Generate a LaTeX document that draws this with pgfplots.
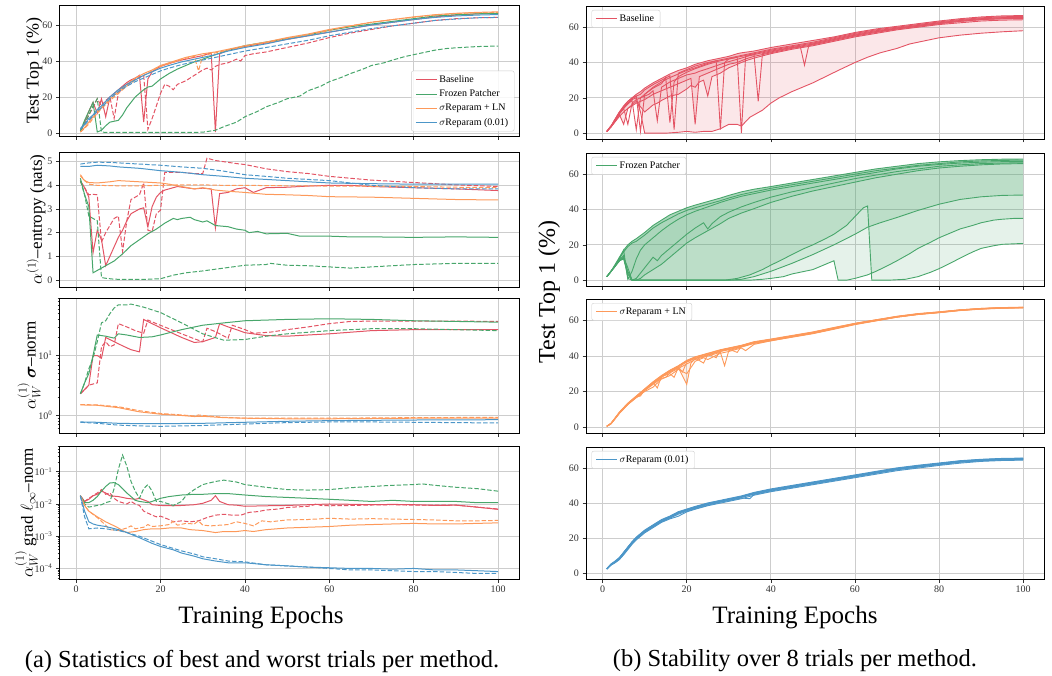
\documentclass[border=0pt]{standalone}
\usepackage{amsmath}
\usepackage{fontspec}
\setmainfont{Liberation Serif}
\usepackage{pgfplots}
\pgfplotsset{compat=1.18}
\definecolor{cB}{RGB}{227,84,100}
\definecolor{cF}{RGB}{72,166,107}
\definecolor{cO}{RGB}{253,153,90}
\definecolor{cU}{RGB}{76,150,200}
\definecolor{gridc}{RGB}{205,205,205}
\pgfplotsset{
 pan/.style={scale only axis, xmin=-3.95, xmax=104.95, xtick={0,20,40,60,80,100},
   grid=major, grid style={gridc, line width=0.8pt}, axis line style={black, line width=0.8pt},
   tick align=outside, tick pos=left, major tick length=3.5pt, minor tick length=2pt,
   tick style={black!80, line width=0.6pt},
   ticklabel style={font=\fontsize{10}{12}\selectfont, text=black!80},
   /pgf/number format/assume math mode=true, legend cell align=left,
   legend image code/.code={\draw[##1] (0pt,0pt) -- (21pt,0pt);},
   legend style={draw=black!20, fill=white, fill opacity=0.85, text opacity=1, rounded corners=2pt,
     font=\fontsize{10}{12}\selectfont, inner xsep=4pt, inner ysep=2.5pt, row sep=1pt}},
 L/.style={pan, width=459.5pt},
 R/.style={pan, width=458pt, ymin=-3.3, ymax=72, ytick={0,20,40,60},
   legend style={at={(0.012,0.97)}, anchor=north west}},
 nox/.style={xticklabels={}},
 yl/.style 2 args={ylabel style={font=\fontsize{#1}{20}\selectfont, at={(axis description cs:#2,0.5)}, anchor=center}},
 s/.style={line width=1pt},
 d/.style={line width=1pt, dash pattern=on 4.5pt off 2pt},
 tr/.style={line width=0.9pt, #1},
 fl/.style={fill=#1, fill opacity=0.14, draw=none},
}
\begin{document}
\begin{tikzpicture}
\useasboundingbox (0,0) rectangle (1052pt,-675pt);
%================ L1
\begin{axis}[L, nox, at={(59.5pt,-5pt)}, anchor=north west, height=131pt, ymin=-1.7, ymax=71.1,
  ytick={0,20,40,60}, ylabel={Test Top 1 (\%)}, yl={18}{-0.055},
  legend style={at={(0.99,0.035)}, anchor=south east, row sep=2pt}]
\addlegendimage{cB,s}\addlegendentry{Baseline}
\addlegendimage{cF,s}\addlegendentry{Frozen Patcher}
\addlegendimage{cO,s}\addlegendentry{$\sigma$Reparam + LN}
\addlegendimage{cU,s}\addlegendentry{$\sigma$Reparam (0.01)}
\addplot[cB,s] coordinates {(1,1)(2,6)(3,12)(4,17)(5,11)(6,19)(7,9)(8,20)(9,22)(10,24)(11,26)(12,28)(13,29.5)(14,30.5)(15,32)(16,6)(17,30)(18,34)(19,35.5)(20,37)(22,38.5)(24,40)(26,41)(28,42)(30,43)(32,44.5)(33,0.5)(34,44)(36,46)(38,47)(40,48)(45,50)(50,52)(55,54)(60,56)(65,58)(70,60)(75,61.5)(80,63)(85,64.5)(90,65.5)(95,66.2)(100,66.5)};
\addplot[cB,d] coordinates {(1,1)(2,5)(3,10)(4,14)(5,19)(6,15)(7,18)(8,20)(9,8)(10,22)(11,25)(12,27)(13,28)(14,30)(15,31)(16,32)(17,2)(18,8)(19,15)(20,22)(21,27)(22,26)(23,24)(24,27)(26,29)(28,32)(30,35)(31,36)(32,35)(33,37)(34,38)(36,39)(38,41)(39,40)(40,43)(42,44)(45,45)(50,47.5)(55,50)(60,53)(65,55.5)(70,57.5)(75,59.5)(80,61)(85,62.5)(90,63.5)(95,64)(100,64.2)};
\addplot[cF,s] coordinates {(1,1)(2,7)(3,12)(4,17)(5,0.5)(6,1.5)(7,4)(8,6)(9,6.5)(10,7)(11,10)(12,14)(13,17)(14,20)(15,22)(16,24)(17,25.5)(18,26)(19,28)(20,30)(22,33)(24,35.5)(26,37.5)(28,39.5)(30,41)(33,43.5)(36,46)(40,48.5)(45,50.5)(50,52.5)(55,54.5)(60,57)(65,59)(70,60.5)(75,62)(80,63.5)(85,65)(90,65.7)(95,66.2)(100,66.5)};
\addplot[cF,d] coordinates {(1,1)(2,5)(3,10)(4,15)(5,19)(6,0.5)(7,0.3)(10,0.3)(15,0.3)(20,0.3)(25,0.3)(30,0.4)(33,1.5)(35,3.5)(38,6)(40,9)(43,12)(45,14.5)(48,17)(50,19)(53,20.5)(55,23.5)(58,26)(60,28.5)(63,31)(65,33)(68,35.5)(70,37.5)(73,39)(75,40.5)(78,42.5)(80,43.5)(83,45)(85,46)(88,47)(90,47.3)(95,48)(100,48.3)};
\addplot[cO,s] coordinates {(1,0.5)(2,3)(3,6)(4,9)(5,12)(6,14)(8,19)(10,23)(12,27)(14,30.5)(16,33)(18,35)(20,37.5)(22,39)(24,40.5)(26,42)(28,43)(30,44)(33,45)(36,46.5)(40,48.5)(45,50.5)(50,53)(55,55)(60,57.5)(65,59.5)(70,61.5)(75,63)(80,64.5)(85,65.7)(90,66.5)(95,67)(100,67.3)};
\addplot[cO,d] coordinates {(1,0.5)(2,2.5)(3,5)(4,8)(5,11)(6,13.5)(8,18)(10,22)(12,26)(14,29.5)(16,32)(18,34.5)(20,37)(22,38.5)(24,40)(26,41.5)(28,42.5)(29,34.5)(30,43)(33,44.5)(36,46)(40,48)(45,50)(50,52.5)(55,54.5)(60,57)(65,59.5)(70,61.5)(75,63)(80,64.3)(85,65.5)(90,66.3)(95,66.8)(100,67)};
\addplot[cU,s] coordinates {(1,2.5)(2,5)(3,8)(4,10)(5,13)(6,15)(8,20)(10,24)(12,27)(14,29.5)(16,32)(18,34)(20,36)(22,37.5)(25,39.5)(28,41)(30,42)(33,43.5)(36,45.5)(40,47.5)(45,49.5)(50,52)(55,54)(60,56)(65,58)(70,60)(75,61.5)(80,63)(85,64.2)(90,65)(95,65.5)(100,65.8)};
\addplot[cU,d] coordinates {(1,2)(2,4.5)(3,7)(4,9.5)(5,12)(6,14)(8,19)(10,23)(12,26)(14,28.5)(16,30.5)(18,32.5)(20,34.5)(22,36)(25,38)(28,39.5)(30,40.5)(33,42)(36,43.5)(40,45.5)(45,47.5)(50,49.5)(55,51.5)(60,54)(65,56)(70,58)(75,59.5)(80,61)(85,62.5)(90,63.3)(95,64)(100,64.2)};
\end{axis}
%================ L2
\begin{axis}[L, nox, at={(59.5pt,-152pt)}, anchor=north west, height=135pt, ymin=-0.3, ymax=5.41,
  ytick={0,1,2,3,4,5}, ylabel={$\alpha^{(1)}$--entropy (nats)}, yl={17}{-0.051}]
\addplot[cB,s] coordinates {(1,4.2)(2,3.9)(3,3.5)(4,1.15)(5,2.1)(6,1.7)(7,0.6)(8,1.0)(9,1.4)(10,1.8)(11,2.1)(12,2.5)(13,2.8)(14,2.9)(15,3.0)(16,3.05)(17,2.25)(18,3.1)(19,3.5)(20,3.7)(21,3.8)(22,3.85)(24,3.95)(26,3.9)(28,3.85)(30,3.88)(32,3.85)(33,2.2)(34,3.65)(36,3.7)(38,3.85)(40,3.9)(42,3.7)(45,3.9)(50,3.92)(55,3.97)(60,4.0)(65,4.0)(70,3.95)(80,3.9)(90,3.85)(100,3.78)};
\addplot[cB,d] coordinates {(1,4.15)(2,3.9)(3,3.6)(4,3.62)(5,3.6)(6,1.6)(7,2.0)(8,2.3)(9,2.6)(10,2.7)(11,1.2)(12,2.5)(13,3.4)(14,3.5)(15,3.6)(16,4.1)(17,2.1)(18,2.05)(19,2.8)(20,2.95)(21,4.55)(22,4.55)(25,4.55)(28,4.5)(30,4.5)(31,5.15)(33,5.05)(35,5.0)(38,4.92)(40,4.88)(45,4.7)(50,4.58)(55,4.5)(60,4.38)(65,4.3)(70,4.22)(80,4.12)(90,4.02)(100,3.95)};
\addplot[cF,s] coordinates {(1,4.3)(2,3.6)(3,3.1)(4,0.3)(5,0.4)(7,0.6)(9,0.8)(11,1.1)(13,1.45)(15,1.7)(17,1.95)(19,2.15)(21,2.4)(23,2.6)(24,2.55)(25,2.6)(27,2.65)(28,2.55)(30,2.45)(31,2.5)(33,2.3)(36,2.25)(38,2.15)(40,2.1)(41,2.0)(43,2.05)(45,1.95)(50,1.97)(53,1.85)(55,1.85)(60,1.85)(65,1.82)(70,1.82)(80,1.8)(90,1.82)(100,1.8)};
\addplot[cF,d] coordinates {(1,4.2)(2,3.6)(3,2.7)(4,2.6)(5,2.5)(6,0.1)(7,0.07)(9,0.03)(12,0.02)(16,0.02)(20,0.05)(23,0.2)(26,0.3)(30,0.38)(35,0.5)(40,0.62)(45,0.65)(46,0.7)(50,0.62)(55,0.6)(60,0.55)(65,0.5)(70,0.55)(80,0.65)(90,0.7)(100,0.7)};
\addplot[cO,s] coordinates {(1,4.4)(2,4.2)(3,4.12)(5,4.1)(8,4.15)(10,4.2)(12,4.18)(15,4.15)(18,4.12)(20,4.1)(22,4.05)(25,3.95)(28,3.85)(30,3.9)(33,3.8)(36,3.75)(40,3.7)(45,3.62)(50,3.6)(55,3.57)(60,3.52)(70,3.5)(80,3.45)(90,3.4)(100,3.38)};
\addplot[cO,d] coordinates {(1,4.45)(2,4.2)(3,4.05)(5,4.0)(10,3.98)(15,3.98)(20,4.0)(25,4.02)(30,4.02)(35,4.0)(40,4.0)(50,3.98)(60,3.97)(70,3.96)(80,3.95)(90,3.92)(100,3.9)};
\addplot[cU,s] coordinates {(1,4.8)(3,4.8)(5,4.85)(8,4.82)(10,4.78)(15,4.72)(20,4.62)(25,4.55)(30,4.45)(35,4.38)(40,4.3)(45,4.25)(50,4.2)(55,4.15)(60,4.1)(70,4.07)(80,4.05)(90,4.05)(100,4.05)};
\addplot[cU,d] coordinates {(1,4.9)(3,4.95)(5,4.98)(8,4.97)(10,4.95)(15,4.9)(20,4.85)(25,4.78)(30,4.72)(35,4.6)(40,4.45)(45,4.38)(50,4.3)(55,4.25)(60,4.2)(65,4.1)(70,4.0)(75,3.95)(80,3.9)(90,3.85)(100,3.85)};
\end{axis}
%================ L3
\begin{axis}[L, nox, at={(59.5pt,-298pt)}, anchor=north west, height=135pt, ymode=log, ymin=0.51, ymax=91,
  ytick={1,10}, yticklabels={10\textsuperscript{0},10\textsuperscript{1}},
  minor ytick={0.6,0.7,0.8,0.9,2,3,4,5,6,7,8,9,20,30,40,50,60,70,80,90},
  ylabel={$\alpha_W^{(1)}$ $\boldsymbol{\sigma}$--norm}, yl={17}{-0.066}]
\addplot[cB,s] coordinates {(1,2.3)(3,3.2)(4,10)(5,10)(6,9)(7,20)(9,17)(11,14.5)(13,12.5)(15,11.5)(16,40)(18,34)(20,29)(22,25)(25,20)(28,16.5)(30,17)(33,20)(34,34)(36,30)(38,27)(40,24)(45,21.5)(50,21)(55,22)(60,23)(70,26)(80,27)(90,27)(100,27)};
\addplot[cB,d] coordinates {(1,2.3)(3,3.2)(5,3.5)(6,14)(7,17)(8,14)(9,15)(10,34)(12,30)(14,26)(16,23.5)(17,39)(19,34)(22,28)(25,23)(28,19)(30,17)(31,28.5)(33,25)(36,19.4)(37,32)(40,27)(42,23.5)(46,24.5)(50,27)(55,30)(60,34)(65,37)(70,37.5)(80,37.5)(90,37.5)(100,37)};
\addplot[cF,s] coordinates {(1,2.3)(2,3.5)(3,5)(4,10)(5,22)(7,21)(9,19.5)(10,23)(12,22)(15,20)(18,20.5)(20,22)(25,27)(30,32)(35,35)(40,38)(50,40)(60,41)(70,40)(80,38)(90,37)(100,36)};
\addplot[cF,d] coordinates {(1,2.3)(2,3.5)(3,6)(4,9)(5,17)(6,35)(7,38)(8,50)(9,62)(10,70)(12,70)(13,72)(16,64)(20,52)(25,35)(30,23)(35,18)(40,18.5)(45,21)(50,23)(60,26)(70,28)(80,28)(90,27)(100,26)};
\addplot[cO,s] coordinates {(1,1.5)(5,1.48)(10,1.35)(15,1.15)(20,1.05)(25,1.0)(28,0.96)(30,0.97)(35,0.92)(40,0.9)(50,0.88)(60,0.88)(70,0.89)(80,0.9)(100,0.9)};
\addplot[cO,d] coordinates {(1,1.52)(5,1.5)(10,1.4)(15,1.2)(20,1.08)(25,1.02)(28,0.98)(29,1.02)(30,1.0)(35,0.93)(40,0.9)(50,0.9)(60,0.9)(70,0.91)(80,0.92)(100,0.93)};
\addplot[cU,s] coordinates {(1,0.78)(5,0.77)(10,0.74)(15,0.73)(20,0.73)(30,0.74)(40,0.77)(50,0.8)(60,0.82)(70,0.83)(80,0.84)(100,0.85)};
\addplot[cU,d] coordinates {(1,0.77)(5,0.74)(10,0.69)(15,0.67)(20,0.66)(30,0.68)(40,0.72)(50,0.76)(60,0.78)(70,0.78)(80,0.77)(100,0.75)};
\end{axis}
%================ L4
\begin{axis}[L, at={(59.5pt,-446pt)}, anchor=north west, height=133pt, ymode=log, ymin=4.7e-5, ymax=0.63,
  ytick={1e-4,1e-3,1e-2,1e-1}, yticklabels={10\textsuperscript{−4},10\textsuperscript{−3},10\textsuperscript{−2},10\textsuperscript{−1}},
  minor ytick={5e-5,6e-5,7e-5,8e-5,9e-5,2e-4,3e-4,4e-4,5e-4,6e-4,7e-4,8e-4,9e-4,2e-3,3e-3,4e-3,5e-3,6e-3,7e-3,8e-3,9e-3,2e-2,3e-2,4e-2,5e-2,6e-2,7e-2,8e-2,9e-2,0.2,0.3,0.4,0.5,0.6},
  ylabel={$\alpha_W^{(1)}$ grad $\ell_\infty$--norm}, yl={17}{-0.072}]
\addplot[cB,s] coordinates {(1,0.018)(2,0.012)(3,0.014)(4,0.018)(5,0.02)(6,0.025)(7,0.022)(8,0.018)(10,0.017)(12,0.015)(14,0.014)(15,0.015)(17,0.012)(18,0.0095)(20,0.009)(23,0.0088)(25,0.009)(28,0.0095)(30,0.0105)(32,0.013)(33,0.018)(34,0.012)(36,0.0095)(38,0.0092)(40,0.0085)(45,0.0088)(50,0.009)(55,0.0095)(60,0.01)(65,0.0098)(70,0.0095)(75,0.0097)(80,0.0095)(85,0.009)(90,0.0092)(95,0.008)(100,0.0068)};
\addplot[cB,d] coordinates {(1,0.018)(2,0.012)(3,0.015)(5,0.022)(6,0.028)(7,0.02)(8,0.022)(9,0.015)(10,0.012)(12,0.01)(13,0.012)(14,0.01)(15,0.009)(16,0.006)(18,0.0045)(19,0.004)(20,0.0042)(22,0.0033)(23,0.0028)(25,0.003)(27,0.0028)(29,0.003)(31,0.0038)(33,0.0045)(35,0.0048)(37,0.0045)(39,0.0045)(41,0.0055)(43,0.0058)(45,0.0065)(48,0.007)(50,0.0078)(55,0.0085)(57,0.01)(58,0.009)(60,0.0088)(65,0.009)(70,0.0093)(75,0.0095)(80,0.0092)(85,0.0093)(90,0.0092)(95,0.008)(100,0.007)};
\addplot[cF,s] coordinates {(1,0.018)(2,0.011)(3,0.011)(4,0.013)(5,0.017)(6,0.025)(7,0.035)(8,0.045)(9,0.046)(10,0.04)(11,0.03)(12,0.022)(13,0.017)(14,0.013)(15,0.012)(17,0.011)(18,0.012)(20,0.015)(22,0.017)(25,0.019)(28,0.02)(30,0.02)(33,0.021)(36,0.021)(38,0.02)(40,0.019)(45,0.017)(50,0.016)(55,0.015)(60,0.014)(65,0.013)(70,0.012)(75,0.013)(80,0.012)(85,0.012)(90,0.012)(95,0.011)(100,0.011)};
\addplot[cF,d] coordinates {(1,0.018)(2,0.01)(3,0.008)(4,0.0085)(5,0.009)(6,0.0095)(7,0.011)(8,0.012)(9,0.03)(10,0.12)(11,0.33)(12,0.15)(13,0.05)(14,0.025)(15,0.015)(16,0.03)(17,0.04)(18,0.025)(19,0.012)(20,0.012)(22,0.01)(23,0.009)(25,0.012)(26,0.018)(28,0.028)(30,0.04)(33,0.05)(35,0.055)(38,0.048)(40,0.04)(45,0.033)(50,0.028)(55,0.027)(60,0.028)(65,0.032)(70,0.035)(75,0.038)(80,0.04)(82,0.042)(85,0.038)(90,0.033)(95,0.03)(100,0.025)};
\addplot[cO,s] coordinates {(1,0.018)(2,0.009)(3,0.006)(5,0.004)(7,0.0028)(9,0.0021)(10,0.0018)(11,0.0015)(12,0.0013)(14,0.0014)(16,0.0016)(18,0.0017)(20,0.0017)(22,0.0018)(25,0.0018)(27,0.0016)(30,0.0015)(33,0.0013)(35,0.0014)(38,0.0014)(40,0.0015)(42,0.0014)(45,0.0016)(50,0.0018)(55,0.0019)(60,0.002)(65,0.0022)(70,0.0023)(75,0.0024)(80,0.0025)(85,0.0024)(90,0.0024)(95,0.0025)(100,0.0026)};
\addplot[cO,d] coordinates {(1,0.018)(2,0.009)(3,0.006)(5,0.0038)(7,0.0022)(8,0.0016)(10,0.0015)(12,0.0018)(13,0.0021)(14,0.0017)(16,0.0019)(17,0.0023)(18,0.002)(20,0.0021)(22,0.0023)(23,0.0029)(24,0.0022)(26,0.0025)(28,0.0024)(29,0.003)(30,0.0022)(32,0.0021)(34,0.0022)(36,0.0023)(38,0.0028)(40,0.0025)(42,0.0021)(44,0.003)(46,0.0028)(50,0.0032)(55,0.0033)(60,0.0036)(65,0.0034)(70,0.0035)(75,0.0034)(80,0.0033)(85,0.0032)(90,0.003)(95,0.003)(100,0.0031)};
\addplot[cU,s] coordinates {(1,0.018)(2,0.006)(3,0.0028)(4,0.0024)(5,0.0022)(7,0.002)(10,0.0016)(12,0.0013)(15,0.0009)(18,0.0006)(20,0.00048)(23,0.00038)(25,0.0003)(28,0.00024)(30,0.0002)(33,0.00017)(36,0.00015)(40,0.00015)(45,0.00013)(50,0.00012)(55,0.00011)(60,0.000105)(65,0.0001)(70,0.0001)(75,0.000095)(80,0.0001)(85,0.00009)(90,0.00009)(95,0.000085)(100,0.00008)};
\addplot[cU,d] coordinates {(1,0.018)(2,0.004)(3,0.0017)(5,0.0018)(7,0.0017)(10,0.0015)(12,0.0013)(15,0.001)(18,0.0007)(20,0.00055)(23,0.00042)(25,0.00035)(28,0.00028)(30,0.00023)(33,0.0002)(36,0.00017)(40,0.00016)(45,0.00013)(50,0.00012)(55,0.00011)(60,0.0001)(65,0.00009)(70,0.00009)(75,0.000085)(80,0.00008)(85,0.00008)(90,0.000075)(95,0.00007)(100,0.00007)};
\end{axis}
%================ R1 Baseline
\begin{axis}[R, nox, at={(586pt,-6pt)}, anchor=north west, height=133pt]
\addlegendimage{cB,s}\addlegendentry{Baseline}
\addplot[fl=cB] coordinates {(1,1)(2,4)(3,8)(4,12)(5,15)(6,18)(7,20)(8,22)(9,23.5)(10,25.5)(12,28.5)(14,31)(16,33.5)(18,35.5)(20,37)(22,39)(25,41)(28,42.5)(30,43.5)(32,45)(33,45.5)(36,46.5)(40,48.5)(45,50.5)(50,52.5)(55,54.5)(60,57)(65,59)(70,60.5)(75,62)(80,63.5)(85,64.8)(90,65.8)(95,66.4)(100,66.6)
 (100,58)(95,57.4)(90,56.6)(85,55.5)(80,54)(76,52)(73,50.5)(70,48)(66,45.5)(63,43)(60,40)(56,35.5)(53,32)(50,28.5)(48,26.5)(45,23.5)(42,20)(40,17)(38,13)(35,9)(33,4)(32,5)(30,5)(28,2.5)(26,1)(24,1)(22,0.5)(20,1)(18,0.5)(15,0)(12,0)(10,0)(9,12)(8,20)(7,19)(6,17)(5,14)(4,11)(3,7.5)(2,4)(1,1)};
\addplot[fl=cB] coordinates {(1,1)(2,4)(3,8)(4,12)(5,15)(6,18)(7,20)(8,22)(9,23.5)(10,25.5)(12,28.5)(14,31)(16,33.5)(18,35.5)(20,37)(22,39)(25,41)(28,42.5)(30,43.5)(32,45)(33,45.5)(36,46.5)(40,48.5)(45,50.5)(50,52.5)(55,54.5)(60,57)(65,59)(70,60.5)(75,62)(80,63.5)(85,64.8)(90,65.8)(95,66.4)(100,66.6)
 (100,64.2)(95,64)(90,63.5)(85,62.5)(80,61.5)(75,60)(70,58.5)(65,56.5)(60,54.5)(55,52)(50,49.5)(45,47.5)(40,45)(36,42.5)(34,41)(32,39)(30,37)(28,34)(26,32)(25,21)(24,30)(23,29)(22,26)(21,27)(20,25)(18,22)(16,21)(14,18.5)(13,17)(12,16)(11,14)(10,12)(9,15)(8,18)(7,16)(6,14)(5,12)(4,9.5)(3,6.5)(2,3.5)(1,1)};
\addplot[fl=cB] coordinates {(1,1)(2,4)(3,8)(4,12)(5,15)(6,18)(7,20)(8,22)(9,23.5)(10,25.5)(12,28.5)(14,31)(16,33.5)(18,35.5)(20,37)(22,39)(25,41)(28,42.5)(30,43.5)(32,45)(33,45.5)(36,46.5)(40,48.5)(45,50.5)(50,52.5)(55,54.5)(60,57)(65,59)(70,60.5)(75,62)(80,63.5)(85,64.8)(90,65.8)(95,66.4)(100,66.6)
 (100,65)(95,64.8)(90,64.3)(85,63.3)(80,62)(75,60.5)(70,59)(65,57)(60,55)(55,52.5)(50,50)(45,48)(40,45.5)(36,43.5)(34,42)(32,40)(30,39)(28,37)(27,36)(25,34)(23,32)(22,5)(21,31)(20,30)(18,28)(16,26)(14,24)(12,22)(10,19)(9,18)(8,17)(7,15.5)(6,14)(5,5)(4,10.5)(3,7)(2,3.5)(1,1)};
\addplot[tr=cB] coordinates {(1,1)(2,4)(3,8)(4,12)(5,15)(6,18)(7,20)(8,22)(9,23.5)(10,25.5)(12,28.5)(14,31)(16,33.5)(18,35.5)(20,37)(22,39)(25,41)(28,42.5)(30,43.5)(32,45)(33,45.5)(36,46.5)(40,48.5)(45,50.5)(50,52.5)(55,54.5)(60,57)(65,59)(70,60.5)(75,62)(80,63.5)(85,64.8)(90,65.8)(95,66.4)(100,66.6)};
\addplot[tr=cB] coordinates {(1,1)(2,4)(3,8)(4,12)(5,15.5)(6,18)(7,20)(8,21)(9,22)(10,24.5)(12,27.5)(14,30)(16,32.5)(17,2)(18,34)(20,36)(22,38)(25,40)(28,41.5)(30,42.5)(33,44)(36,45.5)(40,47.5)(45,49.5)(50,51.5)(55,54)(60,56.5)(65,58.5)(70,60)(75,61.5)(80,63)(85,64.3)(90,65.3)(95,65.9)(100,66.1)};
\addplot[tr=cB] coordinates {(1,1)(2,4)(3,8)(4,12)(5,14.5)(6,17)(7,19.5)(8,21)(9,1)(10,22)(12,26)(14,29)(16,31.5)(18,33.5)(20,35.5)(22,37)(25,39.5)(27,41)(28,2)(29,40)(30,42)(33,43.5)(36,45)(40,47)(45,49)(50,51)(55,53.5)(60,56)(65,58)(70,59.5)(75,61)(80,62.5)(85,63.8)(90,64.8)(95,65.4)(100,65.6)};
\addplot[tr=cB] coordinates {(1,1)(2,4)(3,7.5)(4,11.5)(5,14)(6,16.5)(7,18.5)(8,2)(9,20)(10,22)(12,25.5)(14,28)(15,31.5)(16,6)(17,29)(18,32)(20,34.5)(22,36.5)(25,39)(28,41)(30,42)(32,43)(33,0)(34,43.5)(36,44.5)(40,46.5)(45,48.5)(50,50.5)(55,53)(60,55.5)(65,57.5)(70,59)(75,60.5)(80,62)(85,63.3)(90,64.3)(95,64.8)(100,65)};
\addplot[tr=cB] coordinates {(1,1)(2,3.5)(3,7)(4,11)(5,14)(6,5)(7,17)(8,19)(9,20)(10,21)(11,22)(12,24)(13,7)(14,26)(16,29)(18,31)(20,33)(22,34)(23,35)(25,36.5)(28,39)(30,40.5)(33,42.5)(35,44)(36,44.5)(37,18)(38,45)(40,46)(45,48.5)(47,49)(48,38.5)(49,49.5)(50,50.5)(55,53)(60,55.5)(65,57.5)(70,59.5)(75,61)(80,62.5)(85,63.8)(90,64.8)(95,65.3)(100,65.5)};
\addplot[tr=cB] coordinates {(1,1)(2,3.5)(3,7)(4,10.5)(5,5)(6,14)(7,15.5)(8,17)(9,18)(10,19)(12,22)(14,24)(16,26)(18,28)(20,30)(21,31)(22,5)(23,32)(25,34)(27,36)(28,37)(30,39)(32,40)(34,42)(36,43.5)(40,45.5)(45,48)(50,50)(55,52.5)(60,55)(65,57)(70,59)(75,60.5)(80,62)(85,63.3)(90,64.3)(95,64.8)(100,65)};
\addplot[tr=cB] coordinates {(1,1)(2,3.5)(3,6.5)(4,9.5)(5,12)(6,14)(7,16)(8,18)(9,15)(10,12)(11,14)(12,16)(13,17)(14,18.5)(16,21)(18,22)(20,25)(21,27)(22,26)(23,29)(24,30)(25,21)(26,32)(28,34)(30,37)(32,39)(34,41)(36,42.5)(40,45)(45,47.5)(50,49.5)(55,52)(60,54.5)(65,56.5)(70,58.5)(75,60)(80,61.5)(85,62.5)(90,63.5)(95,64)(100,64.2)};
\addplot[tr=cB] coordinates {(1,1)(2,4)(3,7.5)(4,11)(5,14)(6,17)(7,19)(8,20)(9,12)(10,0)(12,0)(15,0)(18,0.5)(20,1)(22,0.5)(24,1)(26,1)(28,2.5)(30,5)(32,5)(33,4)(35,9)(38,13)(40,17)(42,20)(45,23.5)(48,26.5)(50,28.5)(53,32)(56,35.5)(60,40)(63,43)(66,45.5)(70,48)(73,50.5)(76,52)(80,54)(85,55.5)(90,56.6)(95,57.4)(100,58)};
\end{axis}
%================ R2 Frozen
\begin{axis}[R, nox, at={(586pt,-153pt)}, anchor=north west, height=133pt]
\addlegendimage{cF,s}\addlegendentry{Frozen Patcher}
\addplot[fl=cF] coordinates {(1,2)(2,5)(3,9)(4,13)(5,17)(6,20)(7,22)(8,23.5)(10,27)(12,31)(14,34)(16,37)(18,39)(20,41)(22,42.5)(25,44.5)(28,46.5)(30,48)(33,50)(36,51.5)(40,53)(45,55)(50,57)(55,59)(60,61)(65,63)(70,64.5)(75,66)(80,67)(85,67.7)(90,68.2)(95,68.5)(100,68.6)
 (100,20.8)(95,20.3)(93,19.5)(90,18)(88,16)(85,12.5)(83,10)(80,6.5)(78,4.5)(75,2)(72,0.5)(68,0)(64,0)(63,42)(62,41)(61,38.5)(60,36)(58,31)(55,26)(53,23.5)(50,20)(48,18)(45,14.5)(43,12)(40,8.5)(38,6)(35,3)(32,1)(29,0)(25,0)(20,0)(15,0)(10,0)(7,0)(6,5)(5,13)(4,11)(3,8)(2,5)(1,2)};
\addplot[fl=cF] coordinates {(1,2)(2,5)(3,9)(4,13)(5,17)(6,20)(7,22)(8,23.5)(10,27)(12,31)(14,34)(16,37)(18,39)(20,41)(22,42.5)(25,44.5)(28,46.5)(30,48)(33,50)(36,51.5)(40,53)(45,55)(50,57)(55,59)(60,61)(65,63)(70,64.5)(75,66)(80,67)(85,67.7)(90,68.2)(95,68.5)(100,68.6)
 (100,35)(98,35)(95,34.5)(93,34)(90,32.5)(88,31)(85,29)(83,27)(80,24)(78,21.5)(75,18)(73,15)(70,11)(68,8.5)(65,5)(63,3)(60,1)(58,0)(56,0)(55,11)(54,10)(52,8)(50,6)(48,5)(45,3.5)(43,2)(40,1)(38,0.5)(35,0)(30,0)(20,0)(10,0)(7,0)(6,3)(5,12)(4,11)(3,8)(2,5)(1,2)};
\addplot[fl=cF] coordinates {(1,2)(2,5)(3,9)(4,13)(5,17)(6,20)(7,22)(8,23.5)(10,27)(12,31)(14,34)(16,37)(18,39)(20,41)(22,42.5)(25,44.5)(28,46.5)(30,48)(33,50)(36,51.5)(40,53)(45,55)(50,57)(55,59)(60,61)(65,63)(70,64.5)(75,66)(80,67)(85,67.7)(90,68.2)(95,68.5)(100,68.6)
 (100,48.2)(95,48)(90,47.2)(85,45.7)(80,43)(75,39.5)(70,35.5)(66,32.5)(63,30)(60,26)(55,20)(50,14.5)(45,9.5)(40,5)(36,2)(33,0.5)(30,0)(20,0)(10,0)(7,0)(6,4)(5,12.5)(4,11)(3,8)(2,5)(1,2)};
\addplot[fl=cF] coordinates {(1,2)(2,5)(3,9)(4,13)(5,17)(6,20)(7,22)(8,23.5)(10,27)(12,31)(14,34)(16,37)(18,39)(20,41)(22,42.5)(25,44.5)(28,46.5)(30,48)(33,50)(36,51.5)(40,53)(45,55)(50,57)(55,59)(60,61)(65,63)(70,64.5)(75,66)(80,67)(85,67.7)(90,68.2)(95,68.5)(100,68.6)
 (100,66)(95,65.8)(90,65.3)(85,64.5)(80,63.5)(75,62)(70,60)(65,58)(60,55.5)(55,53)(50,50.5)(45,47.5)(40,44)(36,40.5)(33,38)(30,35)(28,32)(25,28)(22,24)(20,21)(18,17)(16,13)(14,9)(12,6)(10,3)(9,1)(8,0)(7,0)(6,7)(5,13)(4,11)(3,8)(2,5)(1,2)};
\addplot[tr=cF] coordinates {(1,2)(2,5)(3,9)(4,13)(5,17)(6,20)(7,22)(8,23.5)(10,27)(12,31)(14,34)(16,37)(18,39)(20,41)(22,42.5)(25,44.5)(28,46.5)(30,48)(33,50)(36,51.5)(40,53)(45,55)(50,57)(55,59)(60,61)(65,63)(70,64.5)(75,66)(80,67)(85,67.7)(90,68.2)(95,68.5)(100,68.6)};
\addplot[tr=cF] coordinates {(1,2)(2,5)(3,8.5)(4,12.5)(5,16)(6,19)(7,21)(8,22)(10,25.5)(12,29.5)(14,32.5)(16,35)(18,37.5)(20,39.5)(22,41)(25,43)(28,45)(30,46.5)(33,48.5)(36,50)(40,52)(45,54)(50,56)(55,58)(60,60)(65,62)(70,63.5)(75,65)(80,66)(85,67)(90,67.5)(95,67.8)(100,68)};
\addplot[tr=cF] coordinates {(1,2)(2,5)(3,8.5)(4,12)(5,17)(6,0.5)(7,5)(8,12)(9,17)(10,20)(12,24)(14,28)(16,31.5)(18,34.5)(20,37)(22,39)(25,41.5)(28,44)(30,45.5)(33,47.5)(36,49)(40,51)(45,53)(50,55)(55,57)(60,59)(65,61)(70,63)(75,64.5)(80,65.5)(85,66.3)(90,66.8)(95,67.1)(100,67.2)};
\addplot[tr=cF] coordinates {(1,2)(2,5)(3,8)(4,11.5)(5,14)(6,1)(7,0)(8,1)(9,4)(10,7)(11,10)(12,13)(13,11)(14,14)(15,16)(16,18)(18,22)(20,26)(22,29.5)(24,32.5)(25,29)(26,32)(28,36)(30,38.5)(33,41.5)(36,44)(40,47)(45,50)(50,52.5)(55,55)(60,57.5)(65,59.5)(70,61.5)(75,63)(80,64.5)(85,65.3)(90,66)(95,66.3)(100,66.5)};
\addplot[tr=cF] coordinates {(1,2)(2,5)(3,8)(4,11)(5,13)(6,7)(7,0)(8,0)(9,1)(10,3)(12,6)(14,9)(16,13)(18,17)(20,21)(22,24)(25,28)(28,32)(30,35)(33,38)(36,40.5)(40,44)(45,47.5)(50,50.5)(55,53)(60,55.5)(65,58)(70,60)(75,62)(80,63.5)(85,64.5)(90,65.3)(95,65.8)(100,66)};
\addplot[tr=cF] coordinates {(1,2)(2,5)(3,8)(4,11)(5,13)(6,5)(7,0)(10,0)(15,0)(20,0)(25,0)(29,0)(32,1)(35,3)(38,6)(40,8.5)(43,12)(45,14.5)(48,18)(50,20)(53,23.5)(55,26)(58,31)(60,36)(61,38.5)(62,41)(63,42)(64,0)(68,0)(72,0.5)(75,2)(78,4.5)(80,6.5)(83,10)(85,12.5)(88,16)(90,18)(93,19.5)(95,20.3)(100,20.8)};
\addplot[tr=cF] coordinates {(1,2)(2,5)(3,8)(4,11)(5,12.5)(6,4)(7,0)(10,0)(20,0)(30,0)(33,0.5)(36,2)(40,5)(45,9.5)(50,14.5)(55,20)(60,26)(63,30)(66,32.5)(70,35.5)(75,39.5)(80,43)(85,45.7)(90,47.2)(95,48)(100,48.2)};
\addplot[tr=cF] coordinates {(1,2)(2,5)(3,8)(4,11)(5,12)(6,3)(7,0)(10,0)(20,0)(30,0)(35,0)(38,0.5)(40,1)(43,2)(45,3.5)(48,5)(50,6)(52,8)(54,10)(55,11)(56,0)(58,0)(60,1)(63,3)(65,5)(68,8.5)(70,11)(73,15)(75,18)(78,21.5)(80,24)(83,27)(85,29)(88,31)(90,32.5)(93,34)(95,34.5)(98,35)(100,35)};
\end{axis}
%================ R3 sigmaReparam + LN
\begin{axis}[R, nox, at={(586pt,-299pt)}, anchor=north west, height=134pt]
\addlegendimage{cO,s}\addlegendentry{$\sigma$Reparam + LN}
\addplot[fl=cO] coordinates {(1,0.5)(2,2.2)(3,5.3)(4,8.5)(5,11)(6,13.5)(8,17.5)(10,21.5)(12,25.5)(14,29)(16,32)(18,34.5)(20,37.5)(22,39.5)(25,41.5)(28,43.5)(30,44.5)(33,46)(36,48)(40,49.5)(45,51.5)(50,53.5)(55,56)(60,58.3)(65,60.3)(70,62.2)(75,63.7)(80,64.8)(85,65.9)(90,66.7)(95,67.1)(100,67.3)
 (100,67.2)(95,67)(90,66.5)(85,65.7)(80,64.5)(75,63.5)(70,62)(65,60)(60,58)(55,55.5)(50,53)(45,51)(40,49)(36,47.5)(33,45.5)(30,43.5)(28,42.5)(25,40.5)(22,38.5)(21,36)(20,24)(18,33.5)(16,31)(14,28)(12,24.5)(11,23)(10,21)(8,17)(6,13)(5,10.5)(4,8)(3,5)(2,2)(1,0.5)};
\addplot[tr=cO] coordinates {(1,0.5)(2,2.2)(3,5.3)(4,8.5)(5,11)(6,13.5)(8,17.5)(10,21.5)(12,25.5)(14,29)(16,32)(18,34.5)(20,37.5)(22,39.5)(25,41.5)(28,43.5)(30,44.5)(33,46)(36,48)(40,49.5)(45,51.5)(50,53.5)(55,56)(60,58.3)(65,60.3)(70,62.2)(75,63.7)(80,64.8)(85,65.9)(90,66.7)(95,67.1)(100,67.3)};
\addplot[tr=cO] coordinates {(1,0.5)(2,2)(3,5)(4,8)(5,10.5)(6,13)(8,17)(10,21)(11,23)(12,24.5)(14,28)(16,31)(18,33.5)(20,24)(21,36)(22,38.5)(25,40.5)(28,42.5)(30,43.5)(33,45.5)(36,47.5)(40,49)(45,51)(50,53)(55,55.5)(60,58)(65,60)(70,62)(75,63.5)(80,64.5)(85,65.7)(90,66.5)(95,67)(100,67.2)};
\addplot[tr=cO] coordinates {(1,0.5)(2,1.8)(3,4.7)(4,7.7)(5,10.2)(6,12.7)(8,16.5)(9,18)(10,20.5)(12,24)(14,27.5)(15,28)(16,30.5)(18,33)(20,35.5)(22,38)(25,40)(28,42)(29,34.5)(30,43)(33,45)(36,47)(40,48.5)(45,50.7)(50,52.7)(55,55.2)(60,57.8)(65,59.8)(70,61.8)(75,63.3)(80,64.4)(85,65.6)(90,66.4)(95,66.9)(100,67.1)};
\addplot[tr=cO] coordinates {(1,0.5)(2,2)(3,5)(4,8)(5,10.5)(6,13)(8,17)(10,20)(12,22.5)(14,27)(16,29)(18,32.5)(20,30)(22,37)(24,39)(25,38)(28,41.5)(30,42.5)(33,44.5)(34,43)(36,46.5)(40,48.5)(45,50.5)(50,52.5)(55,55)(60,57.6)(65,59.7)(70,61.8)(75,63.3)(80,64.3)(85,65.5)(90,66.3)(95,66.8)(100,67)};
\addplot[tr=cO] coordinates {(1,0.5)(2,2.1)(3,5.1)(4,8.2)(5,10.8)(6,13.2)(8,17.2)(10,21.2)(12,25.2)(13,22)(14,28.6)(16,31.6)(18,34.2)(20,37.2)(22,39.2)(25,41.2)(27,39)(28,43.2)(30,44.2)(33,45.7)(36,47.7)(40,49.2)(45,51.2)(50,53.2)(55,55.7)(60,58.2)(65,60.2)(70,62.1)(75,63.6)(80,64.6)(85,65.8)(90,66.6)(95,67.1)(100,67.3)};
\addplot[tr=cO] coordinates {(1,0.5)(2,1.9)(3,4.9)(4,7.9)(5,10.3)(6,12.8)(8,16.8)(10,20.8)(12,24.5)(14,28.2)(16,31.2)(18,33.7)(19,31)(20,36.5)(22,38.7)(25,40.7)(28,42.7)(30,43.7)(33,45.2)(36,47.2)(40,48.8)(45,50.8)(50,52.8)(55,55.3)(60,57.9)(65,59.9)(70,61.9)(75,63.4)(80,64.5)(85,65.7)(90,66.5)(95,67)(100,67.2)};
\addplot[tr=cO] coordinates {(1,0.5)(2,2)(3,5)(4,8)(5,10.5)(6,13)(8,17)(9,17.5)(10,21)(12,25)(14,28.5)(16,30)(17,28)(18,33.5)(20,36.8)(22,38.8)(24,36)(25,40.8)(28,42.8)(30,43.8)(32,42)(33,45.4)(36,47.4)(40,49)(45,51)(50,53)(55,55.5)(60,58)(65,60)(70,62)(75,63.5)(80,64.5)(85,65.7)(90,66.5)(95,67)(100,67.2)};
\addplot[tr=cO] coordinates {(1,0.5)(2,2.1)(3,5.2)(4,8.3)(5,10.7)(6,13.3)(8,17.3)(10,21.3)(12,25.3)(14,28.8)(16,31.8)(18,34.3)(20,37.3)(22,39.3)(25,41.3)(28,43.3)(30,44.3)(33,45.8)(36,47.8)(40,49.3)(45,51.3)(50,53.3)(55,55.8)(60,58.3)(65,60.3)(70,62.3)(75,63.8)(80,64.7)(85,65.9)(90,66.7)(95,67.2)(100,67.4)};
\end{axis}
%================ R4 sigmaReparam (0.01)
\begin{axis}[R, at={(586pt,-447pt)}, anchor=north west, height=132pt]
\addlegendimage{cU,s}\addlegendentry{$\sigma$Reparam (0.01)}
\addplot[fl=cU] coordinates {(1,2.5)(2,5.3)(3,7)(4,9)(5,12)(6,15)(7,18)(8,20.6)(10,24.6)(12,27.6)(14,30.6)(16,32.6)(18,35.1)(20,36.6)(22,38.1)(25,40.1)(28,41.6)(30,42.6)(33,44.1)(36,46.1)(40,48.1)(45,50.1)(50,52.1)(55,54.1)(60,56.1)(65,58.1)(70,60.1)(75,61.6)(80,62.9)(85,64.2)(90,65)(95,65.5)(100,65.7)
 (100,64.5)(95,64.3)(90,63.8)(85,62.8)(80,61.5)(75,60)(70,58.5)(65,56.5)(60,54.5)(55,52.5)(50,50.5)(45,48.5)(40,46.5)(36,44.5)(33,42.5)(30,41)(28,40)(25,38.5)(22,36.5)(20,35)(18,32.5)(16,31)(14,29)(12,26)(10,23)(8,19)(7,16.5)(6,13.5)(5,10.5)(4,7.8)(3,6)(2,4.6)(1,2.4)};
\addplot[tr=cU] coordinates {(1,2.5)(2,5.3)(3,7)(4,9)(5,12)(6,15)(7,18)(8,20.6)(10,24.6)(12,27.6)(14,30.6)(16,32.6)(18,35.1)(20,36.6)(22,38.1)(25,40.1)(28,41.6)(30,42.6)(33,44.1)(36,46.1)(40,48.1)(45,50.1)(50,52.1)(55,54.1)(60,56.1)(65,58.1)(70,60.1)(75,61.6)(80,62.9)(85,64.2)(90,65)(95,65.5)(100,65.7)};
\addplot[tr=cU] coordinates {(1,2.5)(2,5)(3,6.5)(4,8.5)(5,11.5)(6,14.5)(7,17.5)(8,20)(10,24)(12,27)(14,29.5)(16,32.2)(18,34.5)(20,36)(22,37.2)(25,39.7)(28,41)(30,42.2)(33,43.5)(36,45.2)(40,47.5)(45,49.7)(50,51.5)(55,53.3)(60,55.5)(65,57.6)(70,59.5)(75,61)(80,62.4)(85,63.6)(90,64.5)(95,65)(100,65.1)};
\addplot[tr=cU] coordinates {(1,2.3)(2,4.7)(3,6.2)(4,8)(5,10.8)(6,13.8)(7,16.8)(8,19.4)(10,23.4)(12,26.4)(14,29.4)(16,31.4)(18,33.7)(20,35.3)(22,36.8)(25,38.8)(28,40.5)(30,41.4)(33,42.9)(35,42.5)(36,44.9)(40,46.9)(45,48.9)(50,50.9)(55,52.9)(60,54.9)(65,57)(70,59)(75,60.5)(80,61.9)(85,63.3)(90,64.1)(95,64.6)(100,64.8)};
\addplot[tr=cU] coordinates {(1,2.6)(2,5.2)(3,6.8)(4,8.8)(5,11.8)(6,14.8)(7,17.8)(8,20.3)(10,24.3)(12,27.3)(14,30.3)(16,32.3)(18,34.8)(20,36.3)(22,37.8)(25,39.8)(28,41.3)(30,42.3)(33,43.8)(36,45.8)(40,47.8)(45,49.8)(50,51.8)(55,53.8)(60,55.8)(65,57.8)(70,59.8)(75,61.3)(80,62.6)(85,64)(90,64.8)(95,65.3)(100,65.5)};
\addplot[tr=cU] coordinates {(1,2.4)(2,4.6)(3,6)(4,7.8)(5,10.5)(6,13.5)(7,16.5)(8,19)(10,23)(12,26)(14,29)(16,31)(18,32.5)(20,35)(22,36.5)(25,38.5)(28,40)(30,41)(33,42.5)(36,44.5)(40,46.5)(45,48.5)(50,50.5)(55,52.5)(60,54.5)(65,56.5)(70,58.5)(75,60)(80,61.5)(85,62.8)(90,63.8)(95,64.3)(100,64.5)};
\addplot[tr=cU] coordinates {(1,2.5)(2,5.1)(3,6.6)(4,8.7)(5,11.7)(6,14.7)(7,17.7)(8,20.2)(10,24.2)(12,27.4)(14,30.2)(16,32.4)(18,34.4)(20,36.3)(22,37.9)(25,39.6)(28,41.2)(30,42.3)(33,43.7)(36,45.7)(40,47.7)(45,49.4)(50,51.7)(55,53.8)(60,55.6)(65,57.7)(70,59.6)(75,61.2)(80,62.5)(85,63.8)(90,64.7)(95,65.2)(100,65.4)};
\addplot[tr=cU] coordinates {(1,2.4)(2,4.9)(3,6.3)(4,8.2)(5,11.2)(6,14.2)(7,17.2)(8,19.7)(10,23.7)(12,26.7)(14,29.7)(16,31.7)(18,34.2)(20,35.7)(22,37.2)(25,39.2)(28,40.7)(30,41.7)(33,43.2)(36,45.2)(40,47.2)(45,49.2)(50,51.2)(55,53.2)(60,55.2)(65,57.2)(70,59.2)(75,60.7)(80,62)(85,63.4)(90,64.2)(95,64.7)(100,64.9)};
\addplot[tr=cU] coordinates {(1,2.5)(2,5)(3,6.6)(4,8.6)(5,11.6)(6,14.6)(7,17.6)(8,20.1)(10,24.1)(12,27.1)(14,30.1)(16,32.1)(18,34.6)(20,36.1)(22,37.6)(25,39.6)(28,41.1)(30,42.1)(33,43.6)(36,45.6)(40,47.6)(45,49.6)(50,51.6)(55,53.6)(60,55.6)(65,57.6)(70,59.6)(75,61.1)(80,62.4)(85,63.8)(90,64.6)(95,65.1)(100,65.3)};
\end{axis}
%================ labels
\node[rotate=90, font=\fontsize{24}{28}\selectfont] at (549pt,-292pt) {Test Top 1 (\%)};
\node[font=\fontsize{25}{28}\selectfont] at (261pt,-618pt) {Training Epochs};
\node[font=\fontsize{25}{28}\selectfont] at (795pt,-618pt) {Training Epochs};
\node[font=\fontsize{24.5}{28}\selectfont] at (262pt,-661pt) {(a) Statistics of best and worst trials per method.};
\node[font=\fontsize{24.5}{28}\selectfont] at (795pt,-661pt) {(b) Stability over 8 trials per method.};
\end{tikzpicture}
\end{document}
